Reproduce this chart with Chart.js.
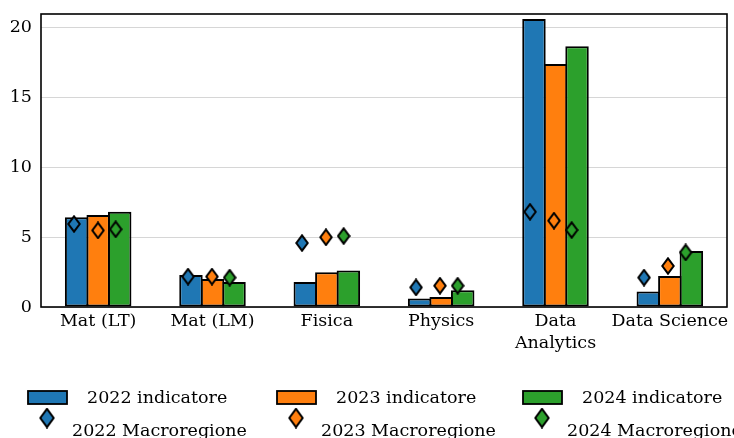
<!DOCTYPE html>
<html><head><meta charset="utf-8">
<script src="https://cdn.jsdelivr.net/npm/chart.js@4/dist/chart.umd.min.js"></script>
<style>html,body{margin:0;padding:0;background:#fff;}#wrap{position:relative;width:734px;height:438px;}canvas{position:absolute;left:0;top:0;display:block;}</style>
</head><body>
<div id="wrap"><canvas id="bars" width="734" height="438"></canvas><canvas id="marks" width="734" height="438"></canvas></div>
<script>
const categories = ["Mat (LT)", "Mat (LM)", "Fisica", "Physics", ["Data", "Analytics"], "Data Science"];
const years = ["2022", "2023", "2024"];
const indicatore2022 = [6.42, 2.29, 1.79, 0.6, 20.57, 1.1];
const indicatore2023 = [6.57, 2.0, 2.48, 0.71, 17.35, 2.21];
const indicatore2024 = [6.8, 1.79, 2.6, 1.19, 18.63, 4.0];
const macro2022 = [5.93, 2.17, 4.57, 1.4, 6.8, 2.1];
const macro2023 = [5.47, 2.17, 4.98, 1.52, 6.17, 2.93];
const macro2024 = [5.55, 2.1, 5.07, 1.52, 5.5, 3.9];
const yTicks = [0, 5, 10, 15, 20];

const colors = ["#1f77b4", "#ff7f0e", "#2ca02c"];
const FONT = "'DejaVu Serif', serif";
const FS = 17.5;
const Y_MAX = 20.93;
const legendColX = [28, 277, 523];

function diamond(color, w, h, lw) {
  const cv = document.createElement('canvas');
  cv.width = w; cv.height = h;
  const g = cv.getContext('2d');
  const p = lw / 2 + 0.3;
  g.beginPath();
  g.moveTo(w / 2, p); g.lineTo(w - p, h / 2); g.lineTo(w / 2, h - p); g.lineTo(p, h / 2); g.closePath();
  g.fillStyle = color; g.fill();
  g.lineWidth = lw; g.strokeStyle = '#000'; g.lineJoin = 'miter'; g.stroke();
  return cv;
}
const plotDiamonds = colors.map(c => diamond(c, 14, 18, 2));
const legendDiamonds = colors.map(c => diamond(c, 16, 21, 2));

const barSeries = [indicatore2022, indicatore2023, indicatore2024];
const macroSeries = [macro2022, macro2023, macro2024];
const macroOffsets = [-0.21, 0, 0.155];

const layoutPadding = { top: 14, right: 7, left: 0, bottom: 0 };

const framePlugin = {
  id: 'frame',
  afterDatasetsDraw(chart) {
    const a = chart.chartArea, ctx = chart.ctx;
    ctx.save(); ctx.strokeStyle = '#000'; ctx.lineWidth = 1.6;
    ctx.strokeRect(a.left, a.top, a.right - a.left, a.bottom - a.top);
    ctx.restore();
  }
};

const barLegend = {
  id: 'barLegend',
  afterDraw(chart) {
    const ctx = chart.ctx;
    ctx.save();
    ctx.font = FS + 'px ' + FONT;
    ctx.textBaseline = 'middle';
    chart.data.datasets.forEach((b, k) => {
      const x = legendColX[k];
      ctx.fillStyle = b.backgroundColor;
      ctx.fillRect(x, 391, 39, 13);
      ctx.strokeStyle = '#000'; ctx.lineWidth = 1.8;
      ctx.strokeRect(x, 391, 39, 13);
      ctx.fillStyle = '#000';
      ctx.fillText(b.label, x + 59, 398);
    });
    ctx.restore();
  }
};

const markLegend = {
  id: 'markLegend',
  afterDraw(chart) {
    const ctx = chart.ctx;
    ctx.save();
    ctx.font = FS + 'px ' + FONT;
    ctx.textBaseline = 'middle';
    ctx.fillStyle = '#000';
    chart.data.datasets.forEach((m, k) => {
      const x = legendColX[k];
      const img = legendDiamonds[k];
      ctx.drawImage(img, x + 19 - img.width / 2, 418 - img.height / 2);
      ctx.fillText(m.label, x + 44, 431);
    });
    ctx.restore();
  }
};

new Chart(document.getElementById('bars'), {
  type: 'bar',
  data: {
    labels: categories,
    datasets: barSeries.map((s, k) => ({
      label: years[k] + ' indicatore', data: s,
      backgroundColor: colors[k], borderColor: '#000', borderWidth: 2, borderSkipped: false,
      categoryPercentage: 0.565, barPercentage: 1.09
    }))
  },
  options: {
    responsive: false, animation: false, devicePixelRatio: 1,
    layout: { padding: layoutPadding },
    plugins: { legend: { display: false }, tooltip: { enabled: false } },
    scales: {
      x: {
        type: 'category', offset: true,
        grid: { display: false, drawTicks: false }, border: { display: false },
        ticks: { color: '#000', font: { family: FONT, size: FS, lineHeight: 1.27 }, padding: 3, maxRotation: 0, autoSkip: false },
        afterFit(s) { s.height = 131; s.paddingLeft = 0; s.paddingRight = 0; }
      },
      y: {
        min: 0, max: Y_MAX,
        afterBuildTicks(s) { s.ticks = yTicks.map(v => ({ value: v })); },
        grid: { color: '#d6d6d6', lineWidth: 1, drawTicks: false }, border: { display: false },
        ticks: { color: '#000', font: { family: FONT, size: FS }, padding: 9 },
        afterFit(s) { s.width = 41; s.paddingTop = 0; s.paddingBottom = 0; }
      }
    }
  },
  plugins: [framePlugin, barLegend]
});

new Chart(document.getElementById('marks'), {
  type: 'scatter',
  data: {
    datasets: macroSeries.map((s, k) => ({
      label: years[k] + ' Macroregione',
      data: s.map((v, i) => ({ x: i + macroOffsets[k], y: v })),
      pointStyle: plotDiamonds[k], pointRadius: 8, pointHoverRadius: 8,
      backgroundColor: colors[k], borderColor: '#000'
    }))
  },
  options: {
    responsive: false, animation: false, devicePixelRatio: 1,
    layout: { padding: layoutPadding },
    plugins: { legend: { display: false }, tooltip: { enabled: false } },
    scales: {
      x: {
        type: 'linear', min: -0.5, max: 5.5,
        grid: { display: false, drawTicks: false }, border: { display: false },
        ticks: { display: false },
        afterFit(s) { s.height = 131; s.paddingLeft = 0; s.paddingRight = 0; }
      },
      y: {
        type: 'linear', min: 0, max: Y_MAX,
        grid: { display: false, drawTicks: false }, border: { display: false },
        ticks: { display: false },
        afterFit(s) { s.width = 41; s.paddingTop = 0; s.paddingBottom = 0; }
      }
    }
  },
  plugins: [markLegend]
});
</script>
</body></html>
